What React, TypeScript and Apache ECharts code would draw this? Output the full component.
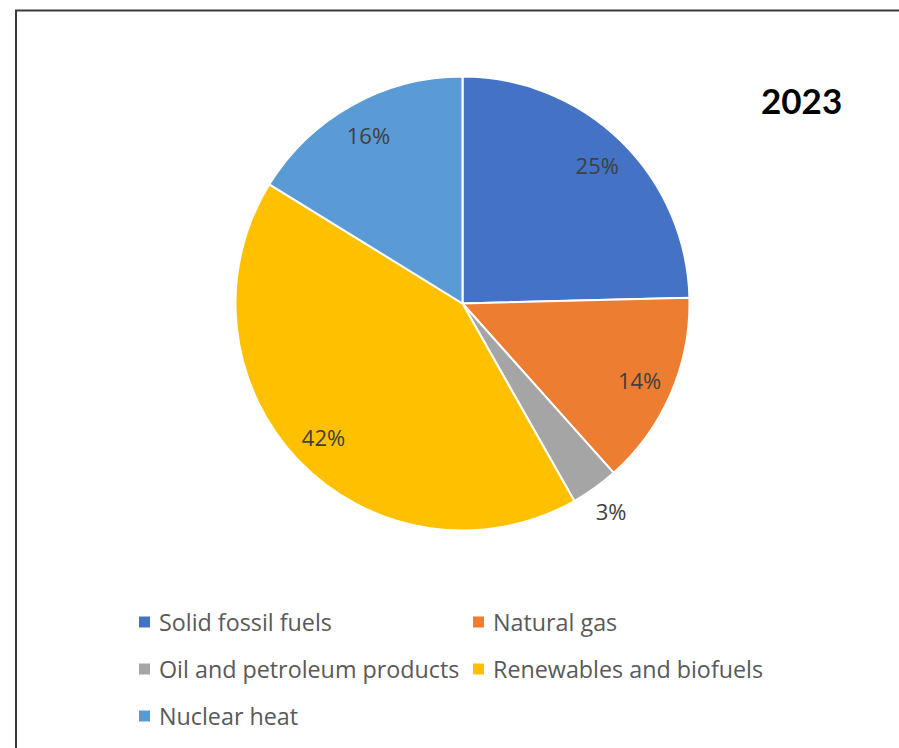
import React, { useEffect, useRef } from "react";
import * as echarts from "echarts";

const categories = [
  "Solid fossil fuels",
  "Natural gas",
  "Oil and petroleum products",
  "Renewables and biofuels",
  "Nuclear heat",
];
const shares = [24.6, 13.8, 3.4, 42.0, 16.2];
const colors = ["#4472C4", "#ED7D31", "#A5A5A5", "#FFC000", "#5B9BD5"];
const outsideLabelCategories = ["Oil and petroleum products"];
const title = "2023";
const legendCol1 = ["Solid fossil fuels", "Oil and petroleum products", "Nuclear heat"];
const legendCol2 = ["Natural gas", "Renewables and biofuels"];

const FONT = "Open Sans";

export default function App() {
  const ref = useRef<HTMLDivElement>(null);
  useEffect(() => {
    if (!ref.current) return;
    const chart = echarts.init(ref.current, undefined, { renderer: "svg" });
    const center = [462.5, 303.5];
    const mainData = categories.map((name, i) => ({
      name,
      value: shares[i],
      itemStyle: { color: colors[i] },
    }));
    const labelStyle = {
      color: "#404040",
      fontFamily: FONT,
      fontSize: 22,
      formatter: "{d}%",
    };
    const insideData = categories.map((name, i) => ({
      name,
      value: shares[i],
      label: { show: !outsideLabelCategories.includes(name) },
    }));
    const outsideData = categories.map((name, i) => ({
      name,
      value: shares[i],
      label: { show: outsideLabelCategories.includes(name) },
    }));
    const legendCommon = {
      orient: "vertical" as const,
      top: 610,
      itemWidth: 11,
      itemHeight: 11,
      itemGap: 23,
      icon: "rect",
      padding: 0,
      itemStyle: { borderWidth: 0 },
      textStyle: {
        color: "#595959",
        fontFamily: FONT,
        fontSize: 23.3,
        lineHeight: 24,
        padding: [0, 0, 0, 4],
      },
      selectedMode: false,
    };
    chart.setOption({
      animation: false,
      backgroundColor: "#ffffff",
      title: {
        text: title,
        left: 761,
        top: 82,
        padding: 0,
        textStyle: {
          fontFamily: "Lato",
          fontWeight: "bold",
          fontSize: 35,
          color: "#000000",
        },
      },
      graphic: [
        {
          type: "rect",
          shape: { x: 16, y: 10.5, width: 1000, height: 1000 },
          style: { fill: "none", stroke: "#3a3a3a", lineWidth: 2 },
          silent: true,
        },
      ],
      legend: [
        { ...legendCommon, left: 139, data: legendCol1 },
        { ...legendCommon, left: 473, data: legendCol2 },
      ],
      series: [
        {
          type: "pie",
          center,
          radius: 227,
          startAngle: 90,
          clockwise: true,
          percentPrecision: 0,
          silent: true,
          label: { show: false },
          labelLine: { show: false },
          itemStyle: { borderColor: "#ffffff", borderWidth: 2 },
          data: mainData,
        },
        {
          type: "pie",
          center,
          radius: 380,
          startAngle: 90,
          clockwise: true,
          percentPrecision: 0,
          silent: true,
          itemStyle: { color: "rgba(0,0,0,0)", borderWidth: 0 },
          label: { ...labelStyle, position: "inside" },
          labelLine: { show: false },
          data: insideData,
        },
        {
          type: "pie",
          center,
          radius: 504,
          startAngle: 90,
          clockwise: true,
          percentPrecision: 0,
          silent: true,
          itemStyle: { color: "rgba(0,0,0,0)", borderWidth: 0 },
          label: { ...labelStyle, position: "inside" },
          labelLine: { show: false },
          data: outsideData,
        },
      ],
    });
    return () => chart.dispose();
  }, []);
  return (
    <div
      ref={ref}
      style={{ position: "fixed", left: 0, top: 0, width: 899, height: 748 }}
    />
  );
}
